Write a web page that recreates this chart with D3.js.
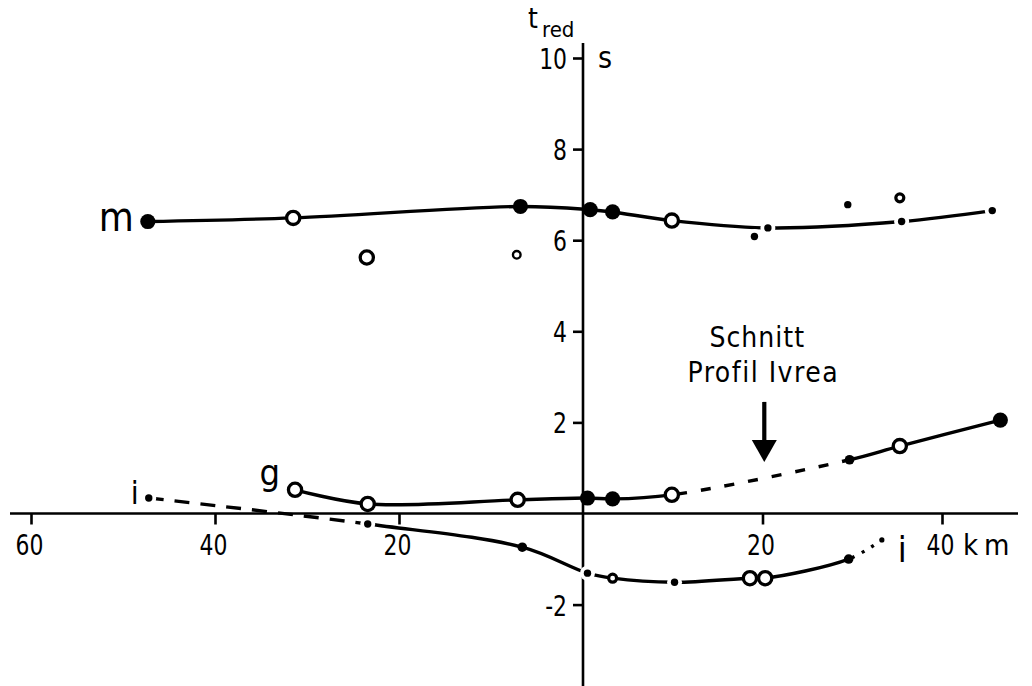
<!DOCTYPE html>
<html><head><meta charset="utf-8">
<script src="https://cdn.jsdelivr.net/npm/d3@7"></script>
<style>body{margin:0;background:#fff}svg{display:block}</style>
</head><body>
<svg id="c" width="1032" height="686"></svg>
<script>
// ---------- data ----------
const xTicks = [-60, -40, -20, 20, 40];
const yTicks = [10, 8, 6, 4, 2, -2];

// curve m
const mX = [-47.3, -31.5, -6.8, 0.8, 3.3, 9.9, 20.6, 35.5, 45.6];
const mY = [6.41, 6.49, 6.74, 6.67, 6.62, 6.43, 6.27, 6.41, 6.65];
const mKind = ["filled", "open", "filled", "filled", "filled", "open", "dot", "dot", "dot"];
// scattered m observations
const mSX = [-23.5, -7.2, 19.1, 29.5, 35.3];
const mSY = [5.62, 5.68, 6.08, 6.78, 6.93];
const mSKind = ["open", "openS", "dot", "dot", "ring"];

// curve g
const gX = [-31.3, -23.4, -7.1, 0.5, 3.3, 9.9, 29.7, 35.3, 46.5];
const gY = [0.52, 0.21, 0.30, 0.34, 0.32, 0.41, 1.18, 1.48, 2.05];
const gKind = ["open", "open", "open", "filled", "filled", "open", "filledS", "open", "filled"];
const gDashed = [9.9, 29.7];

// curve i
const iX = [-47.2, -23.4, -6.6, 0.5, 3.3, 10.2, 18.6, 20.3, 29.6, 33.3];
const iY = [0.34, -0.23, -0.74, -1.31, -1.42, -1.51, -1.42, -1.42, -1.00, -0.58];
const iKind = ["dot", "dot", "filledS", "dot", "ring", "dot", "open", "open", "filledS", "dotS"];
const iDashedTo = -23.4, iDottedFrom = 29.6;

// annotation
const arrowX = 20.2, arrowTop = 2.45, arrowTip = 1.13;

// ---------- drawing ----------
const svg = d3.select("#c");
const FONT = "'DejaVu Sans Condensed','DejaVu Sans',sans-serif";
const SQ = 0.84; // horizontal squeeze of tick digits
const x = d3.scaleLinear().domain([-60, 0, 40]).range([31, 583, 942]);
const y = d3.scaleLinear().domain([0, 10]).range([513.5, 58]);

// axes lines
svg.append("line").attr("x1", 10).attr("x2", 1018).attr("y1", y(0)).attr("y2", y(0))
  .attr("stroke", "#000").attr("stroke-width", 2.6);
svg.append("line").attr("x1", x(0)).attr("x2", x(0)).attr("y1", 43).attr("y2", 686)
  .attr("stroke", "#000").attr("stroke-width", 2.6);

const xa = svg.append("g").attr("transform", `translate(0,${y(0)})`)
  .call(d3.axisBottom(x).tickValues(xTicks).tickSize(11).tickFormat(d => String(Math.abs(d))));
xa.select(".domain").remove();
xa.selectAll("line").attr("stroke-width", 2.6);
xa.selectAll("text").attr("y", 0).attr("dy", 0).attr("font-size", 29).attr("font-family", FONT)
  .attr("fill", "#000").attr("transform", `translate(-2,41) scale(${SQ},1)`);

const ya = svg.append("g").attr("transform", `translate(${x(0)},0)`)
  .call(d3.axisLeft(y).tickValues(yTicks).tickSize(10).tickPadding(7).tickFormat(d => String(d)));
ya.select(".domain").remove();
ya.selectAll("line").attr("stroke-width", 2.6);
ya.selectAll("text").attr("x", 0).attr("font-size", 29).attr("font-family", FONT).attr("fill", "#000")
  .attr("dy", "0.36em").attr("transform", `translate(-16,0) scale(${SQ},1)`);

function txt(s, px, py, size, anchor) {
  return svg.append("text").attr("x", px).attr("y", py).attr("font-size", size)
    .attr("font-family", FONT).attr("text-anchor", anchor || "start").attr("fill", "#000").text(s);
}
txt("t", x(0) - 55, 28, 28);
txt("red", x(0) - 41, 37, 22);
txt("s", x(0) + 15, 68, 30);
txt("km", x(40) + 21, y(0) + 41, 29).attr("letter-spacing", 6);

// clip paths
const defs = svg.append("defs");
function clip(id, x0, x1) {
  defs.append("clipPath").attr("id", id).append("rect")
    .attr("x", x0).attr("y", 0).attr("width", x1 - x0).attr("height", 686);
}
clip("gSolidA", 0, x(gDashed[0]));
clip("gDash", x(gDashed[0]), x(gDashed[1]));
clip("gSolidB", x(gDashed[1]), 1032);
clip("iDash", 0, x(iDashedTo));
clip("iSolid", x(iDashedTo), x(iDottedFrom));
clip("iDot", x(iDottedFrom), 1032);

const line = d3.line().x(d => x(d[0])).y(d => y(d[1])).curve(d3.curveCatmullRom.alpha(0.5));
const zip = (a, b) => a.map((v, k) => [v, b[k]]);

function path(pts, clipId, dash) {
  const p = svg.append("path").attr("d", line(pts)).attr("fill", "none")
    .attr("stroke", "#000").attr("stroke-width", 3.4);
  if (clipId) p.attr("clip-path", `url(#${clipId})`);
  if (dash) p.attr("stroke-dasharray", dash);
  return p;
}
const mPts = zip(mX, mY), gPts = zip(gX, gY), iPts = zip(iX, iY);
path(mPts);
path(gPts, "gSolidA"); path(gPts, "gDash", "10,14"); path(gPts, "gSolidB");
path(iPts, "iDash", "15,11"); path(iPts, "iSolid"); path(iPts, "iDot", "3,8");

function markers(xs, ys, kinds) {
  xs.forEach((xv, k) => {
    const cx = x(xv), cy = y(ys[k]), kind = kinds[k];
    const c = () => svg.append("circle").attr("cx", cx).attr("cy", cy);
    if (kind === "filled") c().attr("r", 7.6).attr("fill", "#000");
    else if (kind === "filledS") c().attr("r", 4.8).attr("fill", "#000");
    else if (kind === "dot") { c().attr("r", 7.5).attr("fill", "#fff"); c().attr("r", 3.7).attr("fill", "#000"); }
    else if (kind === "dotS") c().attr("r", 2.6).attr("fill", "#000");
    else if (kind === "open") c().attr("r", 6.6).attr("fill", "#fff").attr("stroke", "#000").attr("stroke-width", 3.3);
    else if (kind === "openS") c().attr("r", 3.8).attr("fill", "#fff").attr("stroke", "#000").attr("stroke-width", 2.4);
    else if (kind === "ring") c().attr("r", 4).attr("fill", "#fff").attr("stroke", "#000").attr("stroke-width", 3.2);
  });
}
markers(mX, mY, mKind);
markers(mSX, mSY, mSKind);
markers(gX, gY, gKind);
markers(iX, iY, iKind);

// curve labels
txt("m", x(mX[0]) - 14, y(mY[0]) + 9, 40, "end");
txt("g", x(gX[0]) - 15, y(gY[0]) - 5, 36, "end");
txt("i", x(iX[0]) - 10, y(iY[0]) + 6, 32, "end");
txt("i", x(iX[iX.length - 1]) + 16, y(iY[iY.length - 1]) + 22, 36, "start");

// arrow & annotation
svg.append("line").attr("x1", x(arrowX)).attr("x2", x(arrowX))
  .attr("y1", y(arrowTop)).attr("y2", y(arrowTip) - 18)
  .attr("stroke", "#000").attr("stroke-width", 4.2);
svg.append("path").attr("d",
  `M${x(arrowX) - 12.5},${y(arrowTip) - 22}L${x(arrowX) + 12.5},${y(arrowTip) - 22}L${x(arrowX)},${y(arrowTip)}Z`)
  .attr("fill", "#000");
txt("Schnitt", x(arrowX) - 7, y(arrowTop) - 55, 28, "middle").attr("letter-spacing", 1);
txt("Profil Ivrea", x(arrowX) - 1, y(arrowTop) - 20, 28, "middle").attr("letter-spacing", 1.5);
</script>
</body></html>
